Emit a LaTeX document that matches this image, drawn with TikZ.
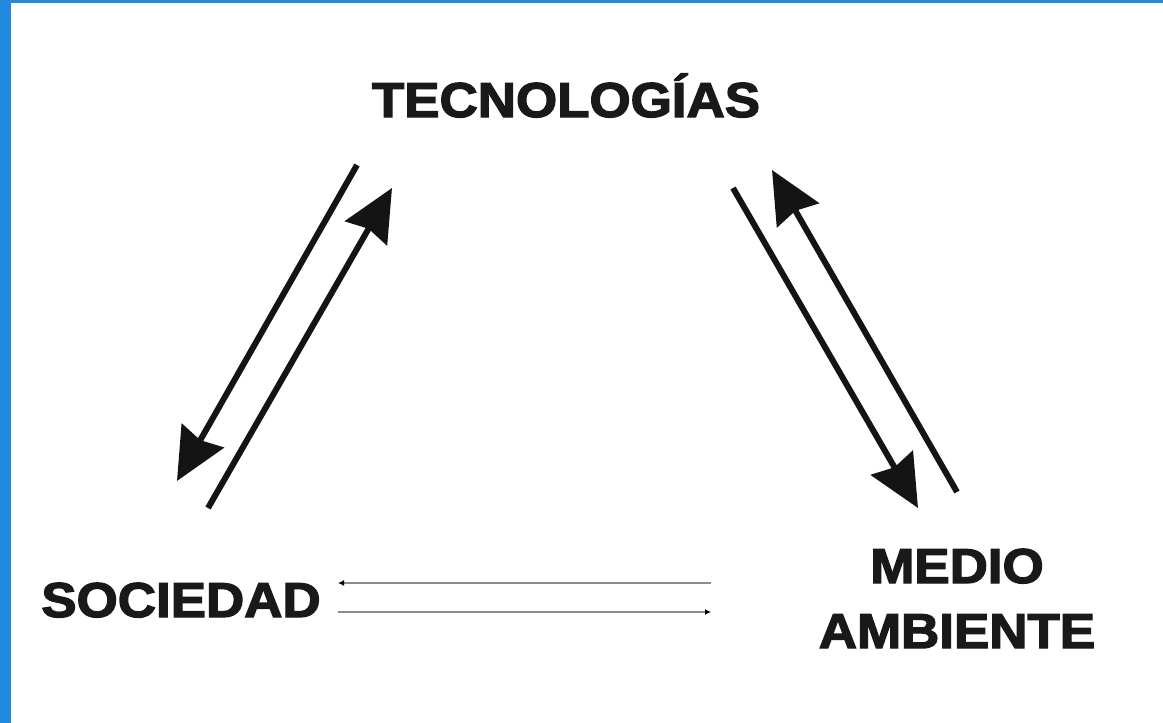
\documentclass[tikz,border=0pt]{standalone}
\usepackage{fontspec}
\newfontfamily\heavy{Liberation Sans}[BoldFeatures={FakeBold=2.6}]
\usetikzlibrary{arrows.meta}
\definecolor{frameblue}{RGB}{33,137,222}
\definecolor{thingray}{RGB}{140,140,140}
\tikzset{
  label/.style={inner sep=0pt, anchor=base, xscale=1.08, text=black!90,
    font=\heavy\bfseries\fontsize{49}{55}\selectfont},
  bigarrow/.style={line width=6pt, draw=black!92,
    -{Stealth[length=52pt,width=48pt,inset=5pt]}},
  thinarrow/.style={line width=2.2pt, draw=thingray,
    -{Latex[length=6pt,width=6pt,black]}}
}
\begin{document}
\begin{tikzpicture}[x=1pt,y=-1pt]
\useasboundingbox (0,0) rectangle (1163,723);
\fill[white] (0,0) rectangle (1163,723);
\fill[frameblue] (0,0) rectangle (11,723);
\fill[frameblue] (0,0) rectangle (1163,3);

\node[label] (tec) at (566,117) {TECNOLOGÍAS};
\node[label] (soc) at (181,617) {SOCIEDAD};
\node[label] (med) at (957,583) {MEDIO};
\node[label] (amb) at (957,648) {AMBIENTE};

\coordinate (a1s) at (357,165);
\coordinate (a1e) at (177,481);
\coordinate (a2s) at (208,508);
\coordinate (a2e) at (392,188);
\coordinate (a3s) at (733,188);
\coordinate (a3e) at (918,508);
\coordinate (a4s) at (957,492);
\coordinate (a4e) at (772,170);
\coordinate (b1s) at (711,583);
\coordinate (b1e) at (338,583);
\coordinate (b2s) at (338,612);
\coordinate (b2e) at (711,612);

\draw[bigarrow] (a1s) -- (a1e);
\draw[bigarrow] (a2s) -- (a2e);
\draw[bigarrow] (a3s) -- (a3e);
\draw[bigarrow] (a4s) -- (a4e);
\draw[thinarrow] (b1s) -- (b1e);
\draw[thinarrow] (b2s) -- (b2e);
\end{tikzpicture}
\end{document}
